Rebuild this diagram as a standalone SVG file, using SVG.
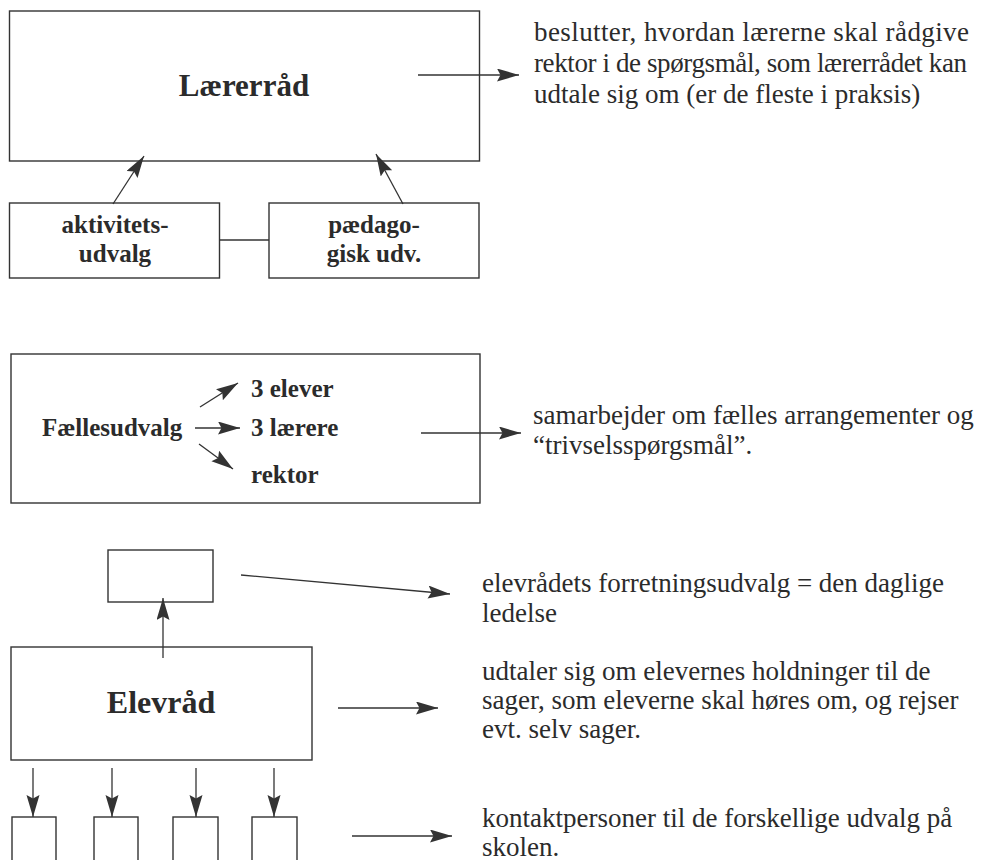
<svg xmlns="http://www.w3.org/2000/svg" width="1007" height="860" viewBox="0 0 1007 860">
<style>
.box{fill:none;stroke:#333;stroke-width:1.4}
.ln{fill:none;stroke:#333;stroke-width:1.3}
.arr{fill:none;stroke:#333;stroke-width:1.3;marker-end:url(#ah)}
.b{font-family:"Liberation Serif","Times New Roman",serif;font-weight:bold;fill:#2b2b2b;font-size:25px}
.big{font-size:31px}
.t{font-family:"Liberation Serif","Times New Roman",serif;fill:#2b2b2b;font-size:27px}
.mid{text-anchor:middle}
</style>
<defs>
<marker id="ah" markerUnits="userSpaceOnUse" markerWidth="24" markerHeight="14" refX="22" refY="6.5" orient="auto">
<path d="M0,0 L22,6.5 L0,13 L3.5,6.5 z" fill="#333"/>
</marker>
</defs>
<rect width="1007" height="860" fill="#fff"/>

<g id="laererraad">
<rect class="box" x="9.5" y="11" width="470" height="150"/>
<text class="b big mid" x="244" y="96">Lærerråd</text>
</g>
<g id="aktivitetsudvalg">
<rect class="box" x="9.5" y="203" width="210" height="75"/>
<text class="b mid" x="115" y="233">aktivitets-</text>
<text class="b mid" x="115" y="262">udvalg</text>
</g>
<g id="paedagogisk">
<rect class="box" x="269" y="203" width="210" height="75"/>
<text class="b mid" x="374" y="233">pædago-</text>
<text class="b mid" x="374" y="262">gisk udv.</text>
</g>
<g id="laererraad-tekst">
<text class="t" x="534" y="41" textLength="435" lengthAdjust="spacing">beslutter, hvordan lærerne skal rådgive</text>
<text class="t" x="534" y="72" textLength="433" lengthAdjust="spacing">rektor i de spørgsmål, som lærerrådet kan</text>
<text class="t" x="534" y="103">udtale sig om (er de fleste i praksis)</text>
</g>

<g id="faellesudvalg">
<rect class="box" x="11" y="354" width="469" height="149"/>
<text class="b" x="42" y="436">Fællesudvalg</text>
<text class="b" x="251" y="397">3 elever</text>
<text class="b" x="251" y="436">3 lærere</text>
<text class="b" x="251" y="483">rektor</text>
</g>
<g id="faellesudvalg-tekst">
<text class="t" x="533" y="424">samarbejder om fælles arrangementer og</text>
<text class="t" x="533" y="454">“trivselsspørgsmål”.</text>
</g>

<g id="forretningsudvalg">
<rect class="box" x="108" y="550" width="105" height="52"/>
</g>
<g id="elevraad">
<rect class="box" x="11" y="647" width="301" height="113"/>
<text class="b mid" x="161" y="713" style="font-size:32px">Elevråd</text>
</g>
<g id="kontaktpersoner">
<rect class="box" x="12" y="817" width="44" height="60"/>
<rect class="box" x="94" y="817" width="44" height="60"/>
<rect class="box" x="173" y="817" width="45" height="60"/>
<rect class="box" x="252" y="817" width="45" height="60"/>
</g>
<g id="elevraad-tekst">
<text class="t" x="482" y="592">elevrådets forretningsudvalg = den daglige</text>
<text class="t" x="482" y="622">ledelse</text>
<text class="t" x="482" y="680">udtaler sig om elevernes holdninger til de</text>
<text class="t" x="482" y="709">sager, som eleverne skal høres om, og rejser</text>
<text class="t" x="482" y="738">evt. selv sager.</text>
<text class="t" x="482" y="827">kontaktpersoner til de forskellige udvalg på</text>
<text class="t" x="482" y="856">skolen.</text>
</g>

<g id="connectors">
<line class="arr" x1="418" y1="75" x2="519" y2="75"/>
<line class="arr" x1="113" y1="204" x2="144" y2="156"/>
<line class="arr" x1="403" y1="204" x2="376" y2="154"/>
<line class="ln" x1="219.5" y1="240" x2="269" y2="240"/>
<line class="arr" x1="200" y1="407" x2="238" y2="383"/>
<line class="arr" x1="195" y1="428" x2="240" y2="428"/>
<line class="arr" x1="199" y1="444" x2="233" y2="469"/>
<line class="arr" x1="421" y1="433" x2="521" y2="433"/>
<line class="arr" x1="163" y1="658" x2="163" y2="598"/>
<line class="arr" x1="241" y1="575" x2="450" y2="594"/>
<line class="arr" x1="338" y1="708" x2="438" y2="708"/>
<line class="arr" x1="33" y1="768" x2="33" y2="817"/>
<line class="arr" x1="112" y1="768" x2="112" y2="817"/>
<line class="arr" x1="196" y1="768" x2="196" y2="817"/>
<line class="arr" x1="274" y1="768" x2="274" y2="817"/>
<line class="arr" x1="352" y1="836" x2="452" y2="836"/>
</g>
</svg>
